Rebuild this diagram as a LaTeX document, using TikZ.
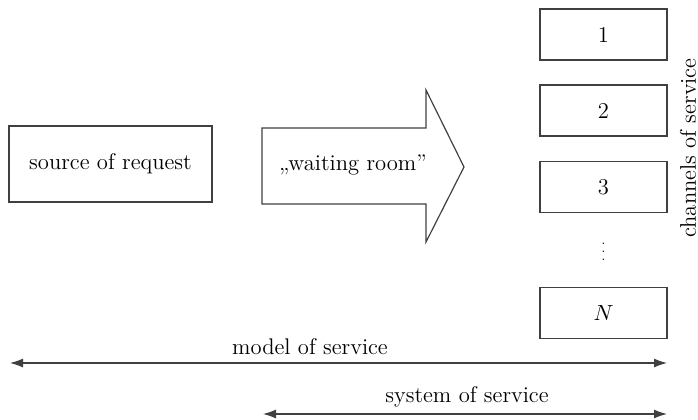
\documentclass[tikz,border=0pt]{standalone}
\usepackage{fontspec}
\usetikzlibrary{arrows.meta}
\begin{document}
\begin{tikzpicture}[x=0.5pt,y=-0.5pt,
  font=\fontsize{11.3}{13}\selectfont,
  boxline/.style={draw=black!75,line width=0.6pt},
  chanbox/.style={boxline,minimum width=63.5pt,minimum height=25.5pt,inner sep=0pt},
  measure/.style={draw=black!75,line width=0.6pt,{Latex[length=6.5pt,width=4.5pt]}-{Latex[length=6.5pt,width=4.5pt]}},
  lbl/.style={inner sep=0pt}]
\useasboundingbox (0,0) rectangle (698,419);
% source box
\node[boxline,minimum width=101.5pt,minimum height=38pt,inner sep=0pt] (src) at (110.5,164) {source of request};
% waiting room arrow
\draw[boxline,line join=miter] (262,128) -- (426,128) -- (426,90) -- (464,167) -- (426,242) -- (426,204) -- (262,204) -- cycle;
\node[lbl] (wait) at (353,165) {„waiting room”};
% channels
\node[chanbox] (c1) at (603.5,34.5) {1};
\node[chanbox] (c2) at (603.5,110.5) {2};
\node[chanbox] (c3) at (603.5,187) {3};
\node[lbl,font=\fontsize{6}{7}\selectfont] (dots) at (603.5,246) {$\vdots$};
\node[lbl,rotate=90] (chan) at (688,148) {channels of service};
\node[chanbox] (cN) at (603.5,313) {$N$};
% measures
\coordinate (m1) at (10,363);
\coordinate (m2) at (667,363);
\coordinate (s1) at (263,414);
\coordinate (s2) at (667,414);
\draw[measure] (m1) -- (m2);
\draw[measure] (s1) -- (s2);
\node[lbl] (mlab) at (310,347) {model of service};
\node[lbl] (slab) at (467,397) {system of service};
\end{tikzpicture}
\end{document}
